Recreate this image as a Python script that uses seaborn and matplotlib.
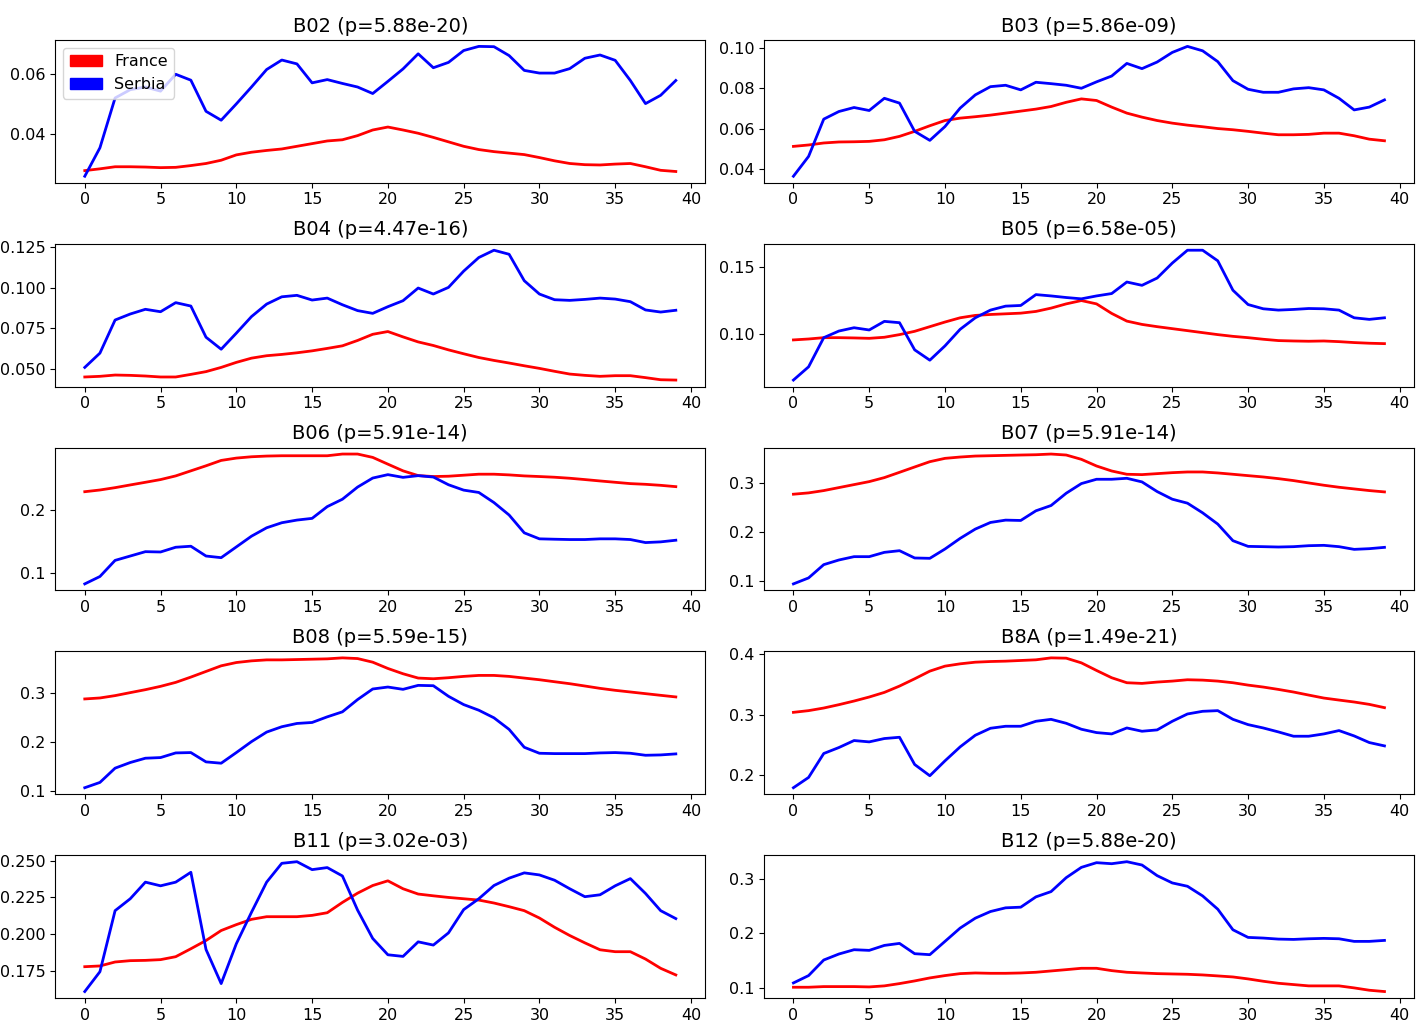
import matplotlib
matplotlib.use("Agg")
import matplotlib.pyplot as plt
import matplotlib.patches as mpatches
import seaborn as sns

# time steps
steps = list(range(40))

# band titles (name, p-value)
bands = ["B02", "B03", "B04", "B05", "B06", "B07", "B08", "B8A", "B11", "B12"]
p_values = ["5.88e-20", "5.86e-09", "4.47e-16", "6.58e-05", "5.91e-14",
            "5.91e-14", "5.59e-15", "1.49e-21", "3.02e-03", "5.88e-20"]

b02_france = [0.0275, 0.0281, 0.0288, 0.0288, 0.0287, 0.0285, 0.0286, 0.0292, 0.0299, 0.0310,
              0.0328, 0.0337, 0.0343, 0.0348, 0.0357, 0.0366, 0.0375, 0.0379, 0.0393, 0.0412,
              0.0422, 0.0412, 0.0401, 0.0387, 0.0372, 0.0357, 0.0346, 0.0339, 0.0334, 0.0329,
              0.0319, 0.0308, 0.0299, 0.0295, 0.0294, 0.0297, 0.0299, 0.0288, 0.0276, 0.0272]
b02_serbia = [0.0256, 0.0352, 0.0520, 0.0548, 0.0557, 0.0543, 0.0600, 0.0580, 0.0475, 0.0445,
              0.0500, 0.0557, 0.0616, 0.0648, 0.0635, 0.0571, 0.0582, 0.0569, 0.0557, 0.0535,
              0.0576, 0.0618, 0.0669, 0.0622, 0.0640, 0.0680, 0.0694, 0.0693, 0.0663, 0.0613,
              0.0604, 0.0604, 0.0619, 0.0654, 0.0665, 0.0647, 0.0579, 0.0501, 0.0529, 0.0579]

b03_france = [0.0511, 0.0518, 0.0528, 0.0533, 0.0534, 0.0536, 0.0544, 0.0561, 0.0586, 0.0614,
              0.0640, 0.0652, 0.0659, 0.0667, 0.0677, 0.0687, 0.0697, 0.0710, 0.0731, 0.0748,
              0.0740, 0.0707, 0.0677, 0.0657, 0.0640, 0.0627, 0.0617, 0.0609, 0.0600, 0.0594,
              0.0586, 0.0577, 0.0569, 0.0569, 0.0571, 0.0577, 0.0577, 0.0564, 0.0547, 0.0539]
b03_serbia = [0.0362, 0.0461, 0.0647, 0.0685, 0.0705, 0.0690, 0.0751, 0.0727, 0.0586, 0.0541,
              0.0610, 0.0702, 0.0768, 0.0809, 0.0816, 0.0793, 0.0831, 0.0824, 0.0816, 0.0801,
              0.0833, 0.0862, 0.0925, 0.0899, 0.0932, 0.0980, 0.1010, 0.0988, 0.0934, 0.0839,
              0.0796, 0.0781, 0.0781, 0.0798, 0.0804, 0.0793, 0.0751, 0.0693, 0.0707, 0.0743]

b04_france = [0.0449, 0.0453, 0.0461, 0.0459, 0.0455, 0.0449, 0.0449, 0.0465, 0.0482, 0.0508,
              0.0539, 0.0565, 0.0580, 0.0588, 0.0598, 0.0610, 0.0625, 0.0641, 0.0674, 0.0712,
              0.0729, 0.0696, 0.0665, 0.0643, 0.0616, 0.0592, 0.0569, 0.0551, 0.0535, 0.0518,
              0.0502, 0.0484, 0.0467, 0.0459, 0.0453, 0.0457, 0.0457, 0.0445, 0.0432, 0.0430]
b04_serbia = [0.0508, 0.0596, 0.0800, 0.0837, 0.0866, 0.0851, 0.0907, 0.0886, 0.0694, 0.0620,
              0.0719, 0.0821, 0.0898, 0.0943, 0.0952, 0.0923, 0.0935, 0.0894, 0.0858, 0.0841,
              0.0882, 0.0919, 0.0997, 0.0960, 0.1001, 0.1101, 0.1185, 0.1230, 0.1205, 0.1042,
              0.0960, 0.0925, 0.0921, 0.0927, 0.0935, 0.0929, 0.0913, 0.0862, 0.0849, 0.0860]

b05_france = [0.0953, 0.0960, 0.0970, 0.0970, 0.0968, 0.0965, 0.0973, 0.0993, 0.1018, 0.1053,
              0.1088, 0.1120, 0.1138, 0.1145, 0.1150, 0.1155, 0.1168, 0.1193, 0.1225, 0.1250,
              0.1225, 0.1153, 0.1095, 0.1070, 0.1053, 0.1038, 0.1023, 0.1008, 0.0993, 0.0980,
              0.0970, 0.0958, 0.0948, 0.0945, 0.0943, 0.0945, 0.0940, 0.0933, 0.0928, 0.0925]
b05_serbia = [0.0650, 0.0750, 0.0970, 0.1020, 0.1045, 0.1028, 0.1093, 0.1083, 0.0878, 0.0800,
              0.0908, 0.1033, 0.1120, 0.1178, 0.1208, 0.1213, 0.1295, 0.1285, 0.1273, 0.1263,
              0.1285, 0.1303, 0.1390, 0.1365, 0.1420, 0.1533, 0.1630, 0.1630, 0.1550, 0.1328,
              0.1220, 0.1188, 0.1178, 0.1183, 0.1190, 0.1188, 0.1178, 0.1120, 0.1108, 0.1120]

b06_france = [0.2289, 0.2316, 0.2353, 0.2396, 0.2438, 0.2481, 0.2539, 0.2619, 0.2699, 0.2784,
              0.2821, 0.2842, 0.2853, 0.2858, 0.2858, 0.2858, 0.2858, 0.2885, 0.2885, 0.2832,
              0.2725, 0.2619, 0.2544, 0.2529, 0.2534, 0.2550, 0.2566, 0.2566, 0.2555, 0.2539,
              0.2529, 0.2518, 0.2502, 0.2481, 0.2459, 0.2438, 0.2417, 0.2406, 0.2390, 0.2369]
b06_serbia = [0.0830, 0.0947, 0.1202, 0.1271, 0.1340, 0.1335, 0.1410, 0.1426, 0.1271, 0.1245,
              0.1415, 0.1585, 0.1718, 0.1798, 0.1840, 0.1867, 0.2053, 0.2170, 0.2362, 0.2505,
              0.2559, 0.2516, 0.2543, 0.2521, 0.2399, 0.2314, 0.2277, 0.2117, 0.1920, 0.1638,
              0.1543, 0.1537, 0.1532, 0.1532, 0.1543, 0.1543, 0.1532, 0.1484, 0.1495, 0.1521]

b07_france = [0.2763, 0.2790, 0.2837, 0.2898, 0.2959, 0.3020, 0.3102, 0.3210, 0.3319, 0.3427,
              0.3495, 0.3522, 0.3542, 0.3549, 0.3556, 0.3563, 0.3569, 0.3583, 0.3563, 0.3475,
              0.3339, 0.3237, 0.3170, 0.3163, 0.3183, 0.3203, 0.3217, 0.3217, 0.3197, 0.3170,
              0.3142, 0.3115, 0.3081, 0.3041, 0.2993, 0.2946, 0.2905, 0.2871, 0.2837, 0.2810]
b07_serbia = [0.0932, 0.1054, 0.1325, 0.1420, 0.1488, 0.1488, 0.1576, 0.1610, 0.1461, 0.1454,
              0.1644, 0.1861, 0.2051, 0.2186, 0.2234, 0.2227, 0.2424, 0.2532, 0.2783, 0.2980,
              0.3068, 0.3068, 0.3088, 0.3014, 0.2817, 0.2661, 0.2580, 0.2383, 0.2153, 0.1814,
              0.1698, 0.1692, 0.1685, 0.1692, 0.1712, 0.1719, 0.1692, 0.1637, 0.1651, 0.1678]

b08_france = [0.2885, 0.2905, 0.2953, 0.3014, 0.3074, 0.3142, 0.3223, 0.3331, 0.3446, 0.3561,
              0.3628, 0.3662, 0.3682, 0.3682, 0.3689, 0.3696, 0.3703, 0.3723, 0.3709, 0.3635,
              0.3507, 0.3399, 0.3311, 0.3297, 0.3318, 0.3345, 0.3365, 0.3365, 0.3345, 0.3311,
              0.3277, 0.3236, 0.3196, 0.3149, 0.3101, 0.3061, 0.3027, 0.2993, 0.2959, 0.2926]
b08_serbia = [0.1074, 0.1182, 0.1473, 0.1588, 0.1676, 0.1689, 0.1784, 0.1791, 0.1601, 0.1574,
              0.1791, 0.2014, 0.2209, 0.2318, 0.2385, 0.2405, 0.2520, 0.2622, 0.2872, 0.3088,
              0.3128, 0.3081, 0.3162, 0.3155, 0.2939, 0.2770, 0.2655, 0.2500, 0.2264, 0.1899,
              0.1777, 0.1770, 0.1770, 0.1770, 0.1784, 0.1791, 0.1777, 0.1736, 0.1743, 0.1764]

b8a_france = [0.3038, 0.3066, 0.3109, 0.3164, 0.3224, 0.3290, 0.3366, 0.3470, 0.3590, 0.3716,
              0.3798, 0.3836, 0.3863, 0.3874, 0.3880, 0.3891, 0.3902, 0.3934, 0.3929, 0.3852,
              0.3727, 0.3607, 0.3525, 0.3514, 0.3536, 0.3552, 0.3574, 0.3568, 0.3552, 0.3525,
              0.3486, 0.3454, 0.3415, 0.3372, 0.3322, 0.3273, 0.3240, 0.3208, 0.3169, 0.3115]
b8a_serbia = [0.1798, 0.1967, 0.2361, 0.2459, 0.2574, 0.2552, 0.2607, 0.2628, 0.2180, 0.1995,
              0.2240, 0.2470, 0.2661, 0.2776, 0.2809, 0.2809, 0.2891, 0.2923, 0.2858, 0.2760,
              0.2705, 0.2683, 0.2781, 0.2727, 0.2749, 0.2891, 0.3011, 0.3055, 0.3066, 0.2923,
              0.2836, 0.2781, 0.2716, 0.2645, 0.2645, 0.2683, 0.2738, 0.2650, 0.2541, 0.2486]

b11_france = [0.1779, 0.1784, 0.1811, 0.1820, 0.1822, 0.1827, 0.1847, 0.1901, 0.1957, 0.2025,
              0.2065, 0.2101, 0.2119, 0.2119, 0.2119, 0.2128, 0.2146, 0.2216, 0.2279, 0.2331,
              0.2363, 0.2309, 0.2273, 0.2261, 0.2250, 0.2241, 0.2232, 0.2212, 0.2187, 0.2160,
              0.2110, 0.2047, 0.1991, 0.1941, 0.1894, 0.1881, 0.1881, 0.1831, 0.1768, 0.1723]
b11_serbia = [0.1610, 0.1745, 0.2160, 0.2241, 0.2354, 0.2329, 0.2354, 0.2421, 0.1896, 0.1664,
              0.1935, 0.2149, 0.2354, 0.2482, 0.2493, 0.2439, 0.2453, 0.2396, 0.2164, 0.1971,
              0.1860, 0.1849, 0.1948, 0.1926, 0.2009, 0.2167, 0.2241, 0.2331, 0.2381, 0.2417,
              0.2403, 0.2367, 0.2309, 0.2255, 0.2268, 0.2329, 0.2378, 0.2277, 0.2160, 0.2106]

b12_france = [0.1012, 0.1012, 0.1024, 0.1024, 0.1024, 0.1018, 0.1037, 0.1079, 0.1128, 0.1183,
              0.1226, 0.1262, 0.1274, 0.1268, 0.1268, 0.1274, 0.1287, 0.1311, 0.1335, 0.1360,
              0.1360, 0.1317, 0.1287, 0.1274, 0.1262, 0.1256, 0.1250, 0.1238, 0.1220, 0.1201,
              0.1165, 0.1122, 0.1085, 0.1061, 0.1037, 0.1037, 0.1037, 0.1000, 0.0957, 0.0933]
b12_serbia = [0.1091, 0.1226, 0.1512, 0.1622, 0.1701, 0.1689, 0.1780, 0.1817, 0.1628, 0.1610,
              0.1854, 0.2098, 0.2280, 0.2402, 0.2470, 0.2482, 0.2671, 0.2768, 0.3024, 0.3213,
              0.3299, 0.3280, 0.3317, 0.3256, 0.3061, 0.2927, 0.2866, 0.2689, 0.2445, 0.2067,
              0.1927, 0.1915, 0.1896, 0.1890, 0.1902, 0.1909, 0.1902, 0.1854, 0.1854, 0.1872]

france = [b02_france, b03_france, b04_france, b05_france, b06_france,
          b07_france, b08_france, b8a_france, b11_france, b12_france]
serbia = [b02_serbia, b03_serbia, b04_serbia, b05_serbia, b06_serbia,
          b07_serbia, b08_serbia, b8a_serbia, b11_serbia, b12_serbia]

fig, axes = plt.subplots(5, 2, figsize=(14.16, 10.23), dpi=100)
fig.subplots_adjust(left=0.039, right=0.9986, top=0.961, bottom=0.0244,
                    wspace=0.09, hspace=0.427)

for ax, band, p, fr, rs in zip(axes.flat, bands, p_values, france, serbia):
    sns.lineplot(x=steps, y=fr, color="red", linewidth=2, ax=ax)
    sns.lineplot(x=steps, y=rs, color="blue", linewidth=2, ax=ax)
    ax.set_title(f"{band} (p={p})", fontsize=14)
    ax.tick_params(labelsize=11.5)

handles = [mpatches.Patch(color="red", label="France"),
           mpatches.Patch(color="blue", label="Serbia")]
axes[0, 0].legend(handles=handles, loc="upper left", fontsize=11.5)

fig.savefig("out.png", dpi=100)
